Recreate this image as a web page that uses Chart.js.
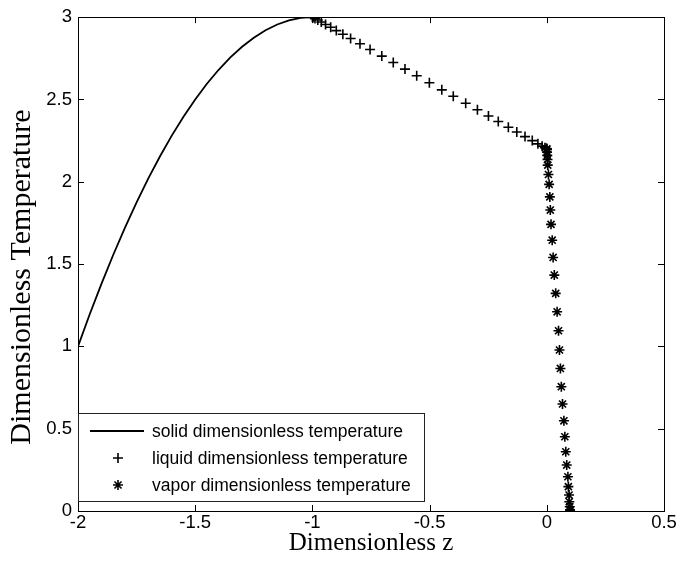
<!DOCTYPE html>
<html>
<head>
<meta charset="utf-8">
<script src="https://cdn.jsdelivr.net/npm/chart.js@4/dist/chart.umd.min.js"></script>
<style>
html,body{margin:0;padding:0;background:#fff;}
#wrap{width:679px;height:567px;position:relative;}
</style>
</head>
<body>
<div id="wrap"><canvas id="c" width="679" height="567"></canvas></div>
<script>
// ---- data ----
const solidZ = [-2.00,-1.95,-1.90,-1.85,-1.80,-1.75,-1.70,-1.65,-1.60,-1.55,-1.50,-1.45,-1.40,-1.35,-1.30,-1.25,-1.20,-1.15,-1.10,-1.05,-1.00];
const solidT = [1.000,1.195,1.380,1.555,1.720,1.875,2.020,2.155,2.280,2.395,2.500,2.595,2.680,2.755,2.820,2.875,2.920,2.955,2.980,2.995,3.000];

const liquidZ = [-1.000,-0.997,-0.989,-0.977,-0.962,-0.944,-0.922,-0.898,-0.870,-0.837,-0.797,-0.754,-0.704,-0.655,-0.605,-0.555,-0.501,-0.448,-0.399,-0.346,-0.296,-0.249,-0.207,-0.164,-0.128,-0.093,-0.062,-0.038,-0.020,-0.008,-0.002,0.000];
const liquidT = [3.000,2.998,2.991,2.982,2.970,2.955,2.938,2.918,2.896,2.870,2.838,2.803,2.763,2.724,2.684,2.644,2.601,2.558,2.519,2.477,2.437,2.399,2.366,2.331,2.302,2.274,2.250,2.230,2.216,2.206,2.202,2.200];

const vaporZ = [0.000,0.000,0.001,0.002,0.003,0.004,0.007,0.010,0.013,0.015,0.018,0.023,0.027,0.032,0.038,0.044,0.050,0.054,0.058,0.062,0.067,0.073,0.077,0.081,0.085,0.090,0.092,0.095,0.096,0.098,0.099,0.0995];
const vaporT = [2.200,2.195,2.180,2.160,2.135,2.101,2.044,1.984,1.908,1.828,1.741,1.645,1.540,1.433,1.322,1.210,1.095,0.978,0.866,0.755,0.650,0.548,0.451,0.360,0.279,0.208,0.148,0.097,0.056,0.026,0.007,0.000];

const xTicks = [-2,-1.5,-1,-0.5,0,0.5];
const yTicks = [0,0.5,1,1.5,2,2.5,3];
const xTickLabels = ['-2','-1.5','-1','-0.5','0','0.5'];
const yTickLabels = ['0','0.5','1','1.5','2','2.5','3'];

const seriesNames = ['solid dimensionless temperature','liquid dimensionless temperature','vapor dimensionless temperature'];
const xTitle = 'Dimensionless z';
const yTitle = 'Dimensionless Temperature';

const pts = (xs, ys) => xs.map((x, i) => ({x: x, y: ys[i]}));

const tickFont = {family: "'Liberation Sans', Arial, sans-serif", size: 18.5};

const framePlugin = {
  id: 'frame',
  afterDatasetsDraw(chart) {
    const ctx = chart.ctx;
    const a = chart.chartArea;
    const xs = chart.scales.x, ys = chart.scales.y;
    ctx.save();
    ctx.strokeStyle = '#000';
    ctx.lineWidth = 1;
    // box
    ctx.strokeRect(Math.round(a.left) + 0.5, Math.round(a.top) + 0.5,
                   Math.round(a.right - a.left), Math.round(a.bottom - a.top));
    // inward ticks
    const L = 6;
    ctx.beginPath();
    xTicks.forEach(v => {
      const px = Math.round(xs.getPixelForValue(v)) + 0.5;
      ctx.moveTo(px, a.bottom); ctx.lineTo(px, a.bottom - L);
      ctx.moveTo(px, a.top); ctx.lineTo(px, a.top + L);
    });
    yTicks.forEach(v => {
      const py = Math.round(ys.getPixelForValue(v)) + 0.5;
      ctx.moveTo(a.left, py); ctx.lineTo(a.left + L, py);
      ctx.moveTo(a.right, py); ctx.lineTo(a.right - L, py);
    });
    ctx.stroke();

    // legend
    const lx = Math.round(a.left) + 0.5, ly = 413.5, lw = 346, lh = 88;
    ctx.fillStyle = '#fff';
    ctx.fillRect(lx, ly, lw, lh);
    ctx.strokeStyle = '#222';
    ctx.strokeRect(lx, ly, lw, lh);
    const rows = [431, 458, 485];
    const mx = 118;
    ctx.strokeStyle = '#000';
    ctx.lineWidth = 1.8;
    ctx.beginPath(); ctx.moveTo(90, rows[0]); ctx.lineTo(144, rows[0]); ctx.stroke();
    ctx.lineWidth = 1.6;
    const r = 5;
    ctx.beginPath();
    ctx.moveTo(mx - r, rows[1]); ctx.lineTo(mx + r, rows[1]);
    ctx.moveTo(mx, rows[1] - r); ctx.lineTo(mx, rows[1] + r);
    ctx.stroke();
    ctx.beginPath();
    ctx.moveTo(mx - r, rows[2]); ctx.lineTo(mx + r, rows[2]);
    ctx.moveTo(mx, rows[2] - r); ctx.lineTo(mx, rows[2] + r);
    const d = r * Math.SQRT1_2;
    ctx.moveTo(mx - d, rows[2] - d); ctx.lineTo(mx + d, rows[2] + d);
    ctx.moveTo(mx - d, rows[2] + d); ctx.lineTo(mx + d, rows[2] - d);
    ctx.stroke();
    ctx.fillStyle = '#000';
    ctx.font = "17.5px 'Liberation Sans', Arial, sans-serif";
    ctx.textBaseline = 'middle';
    ctx.textAlign = 'left';
    seriesNames.forEach((s, i) => ctx.fillText(s, 152, rows[i] + 1));

    // y axis title
    ctx.save();
    ctx.translate(22, 277);
    ctx.rotate(-Math.PI / 2);
    ctx.font = "30px 'Liberation Serif', 'Times New Roman', serif";
    ctx.textAlign = 'center';
    ctx.textBaseline = 'middle';
    ctx.fillText(yTitle, 0, 0);
    ctx.restore();
    ctx.restore();
  }
};

new Chart(document.getElementById('c'), {
  type: 'scatter',
  data: {
    datasets: [
      {label: seriesNames[0], data: pts(solidZ, solidT), showLine: true, pointRadius: 0,
       borderColor: '#000', borderWidth: 1.8, backgroundColor: '#000', tension: 0},
      {label: seriesNames[1], data: pts(liquidZ, liquidT), showLine: false, pointStyle: 'cross',
       pointRadius: 5, pointBorderWidth: 1.6, borderColor: '#000', backgroundColor: '#000'},
      {label: seriesNames[2], data: pts(vaporZ, vaporT), showLine: false, pointStyle: 'star',
       pointRadius: 5, pointBorderWidth: 1.6, borderColor: '#000', backgroundColor: '#000'}
    ]
  },
  options: {
    responsive: false,
    animation: false,
    layout: {padding: {top: 17, right: 15, left: 0, bottom: 0}},
    plugins: {legend: {display: false}, tooltip: {enabled: false}},
    scales: {
      x: {
        type: 'linear', min: -2, max: 0.5,
        afterBuildTicks: s => { s.ticks = xTicks.map(v => ({value: v})); },
        afterFit: s => { s.height = 56; },
        grid: {display: false, drawTicks: false}, border: {display: false},
        ticks: {color: '#000', font: tickFont, padding: 1, maxRotation: 0,
                callback: (v) => xTickLabels[xTicks.indexOf(v)]},
        title: {display: true, text: xTitle, color: '#000',
                font: {family: "'Liberation Serif', 'Times New Roman', serif", size: 25},
                padding: {top: 0, bottom: 9}}
      },
      y: {
        type: 'linear', min: 0, max: 3,
        afterBuildTicks: s => { s.ticks = yTicks.map(v => ({value: v})); },
        afterFit: s => { s.width = 78; },
        grid: {display: false, drawTicks: false}, border: {display: false},
        ticks: {color: '#000', font: tickFont, padding: 6,
                callback: (v) => yTickLabels[yTicks.indexOf(v)]},
        title: {display: false}
      }
    }
  },
  plugins: [framePlugin]
});
</script>
</body>
</html>
